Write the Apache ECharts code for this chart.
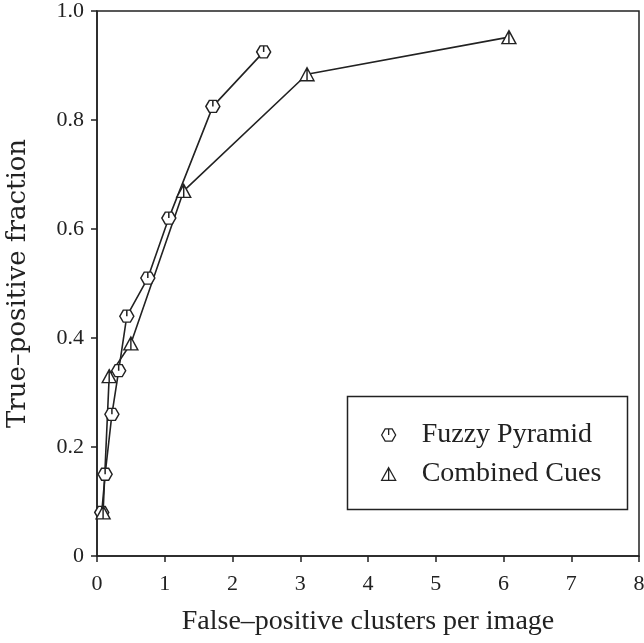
<!DOCTYPE html>
<html>
<head>
<meta charset="utf-8">
<script src="https://cdn.jsdelivr.net/npm/echarts@6/dist/echarts.min.js"></script>
<style>html,body{margin:0;padding:0;background:#fff;}#c{width:644px;height:643px;}</style>
</head>
<body>
<div id="c"></div>
<script>
const seriesNames = ['Fuzzy Pyramid', 'Combined Cues'];
const fuzzyPyramid = [[0.07,0.08],[0.12,0.15],[0.22,0.26],[0.32,0.34],[0.44,0.44],[0.75,0.51],[1.06,0.62],[1.71,0.825],[2.46,0.925]];
const combinedCues = [[0.09,0.08],[0.18,0.33],[0.50,0.39],[1.28,0.67],[3.10,0.884],[6.08,0.952]];
const xTicks = [0,1,2,3,4,5,6,7,8];
const yTicks = [0,0.2,0.4,0.6,0.8,1.0];
const xTitle = 'False–positive clusters per image';
const yTitle = 'True–positive fraction';

const hexPath = 'path://M-1,0 L-0.5,-0.866 L0.5,-0.866 L1,0 L0.5,0.866 L-0.5,0.866 Z M0,-0.866 L0,0';
const triPath = 'path://M0,-1 L1,0.8 L-1,0.8 Z M0,-1 L0,0.8';
const ink = '#222';
const font = '"Liberation Serif", "DejaVu Serif", serif';
const font2 = '"DejaVu Serif", "Liberation Serif", serif';

const chart = echarts.init(document.getElementById('c'));
chart.setOption({
  animation: false,
  backgroundColor: '#fff',
  grid: { left: 97, right: 5, top: 11, bottom: 87, show: true, borderColor: ink, borderWidth: 1.5,
          containLabel: false, outerBoundsMode: 'none' },
  xAxis: {
    type: 'value', min: xTicks[0], max: xTicks[xTicks.length-1], interval: 1,
    name: xTitle, nameLocation: 'middle', nameGap: 52,
    nameTextStyle: { fontFamily: font, fontSize: 28, color: ink },
    axisLine: { show: true, lineStyle: { color: ink, width: 1.5 } },
    axisTick: { show: true, inside: false, length: 6, lineStyle: { color: ink, width: 1.5 } },
    axisLabel: { fontFamily: font, fontSize: 22, color: ink, margin: 17 },
    splitLine: { show: false }
  },
  yAxis: {
    type: 'value', min: yTicks[0], max: yTicks[yTicks.length-1], interval: 0.2,
    name: yTitle, nameLocation: 'middle', nameGap: 66,
    nameTextStyle: { fontFamily: font2, fontSize: 26, color: ink },
    axisLine: { show: true, lineStyle: { color: ink, width: 1.5 } },
    axisTick: { show: true, inside: false, length: 6, lineStyle: { color: ink, width: 1.5 } },
    axisLabel: { fontFamily: font, fontSize: 22, color: ink, margin: 13,
      formatter: v => v === 0 ? '0' : v.toFixed(1) },
    splitLine: { show: false }
  },
  legend: {
    orient: 'vertical', left: 376, top: 416, itemGap: 11,
    itemWidth: 14, itemHeight: 13,
    textStyle: { fontFamily: font, fontSize: 28, color: ink, lineHeight: 28, padding: [0,0,0,21] },
    data: [
      { name: seriesNames[0], icon: hexPath, itemStyle: { color: '#fff', borderColor: ink, borderWidth: 1.3 } },
      { name: seriesNames[1], icon: triPath, itemStyle: { color: '#fff', borderColor: ink, borderWidth: 1.3 } }
    ]
  },
  graphic: [{
    type: 'rect', left: 345, top: 394, z: 0,
    shape: { width: 280, height: 113 },
    style: { fill: 'none', stroke: ink, lineWidth: 1.5 }
  }],
  series: [
    { name: seriesNames[0], type: 'line', data: fuzzyPyramid, symbol: hexPath, symbolSize: [14, 12],
      showAllSymbol: true,
      lineStyle: { color: ink, width: 1.6 },
      itemStyle: { color: '#fff', borderColor: ink, borderWidth: 1.4 } },
    { name: seriesNames[1], type: 'line', data: combinedCues, symbol: triPath, symbolSize: [14, 13],
      showAllSymbol: true,
      lineStyle: { color: ink, width: 1.6 },
      itemStyle: { color: '#fff', borderColor: ink, borderWidth: 1.4 } }
  ]
});
</script>
</body>
</html>
